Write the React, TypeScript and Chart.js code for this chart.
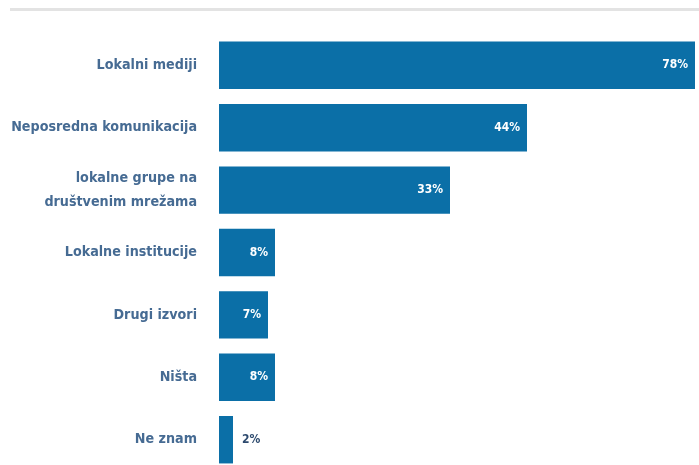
import React, { useEffect, useRef } from "react";
import { Chart, registerables } from "chart.js";

Chart.register(...registerables);

const categories: (string | string[])[] = [
  "Lokalni mediji",
  "Neposredna komunikacija",
  ["lokalne grupe na", "društvenim mrežama"],
  "Lokalne institucije",
  "Drugi izvori",
  "Ništa",
  "Ne znam",
];
const values: number[] = [78, 44, 33, 8, 7, 8, 2];
const valueLabels: string[] = ["78%", "44%", "33%", "8%", "7%", "8%", "2%"];

const BAR = "#0b6fa7";
const TEXT = "#466b93";
const FONT = "'DejaVu Sans Condensed', 'DejaVu Sans', sans-serif";

const valueLabelPlugin = {
  id: "valueLabels",
  afterDatasetsDraw(chart: any) {
    const ctx = chart.ctx;
    const meta = chart.getDatasetMeta(0);
    const area = chart.chartArea;
    ctx.save();
    ctx.font = `bold 12px ${FONT}`;
    ctx.textBaseline = "middle";
    meta.data.forEach((bar: any, i: number) => {
      const txt = valueLabels[i];
      const end = Math.min(bar.x, area.right);
      const w = ctx.measureText(txt).width;
      const width = end - bar.base;
      if (width > w + 16) {
        ctx.fillStyle = "#ffffff";
        ctx.textAlign = "right";
        ctx.fillText(txt, end - 7, bar.y);
      } else {
        ctx.fillStyle = "#2d4a6e";
        ctx.textAlign = "left";
        ctx.fillText(txt, end + 9, bar.y);
      }
    });
    ctx.restore();
  },
};

export default function App() {
  const ref = useRef<HTMLCanvasElement>(null);
  useEffect(() => {
    if (!ref.current) return;
    const chart = new Chart(ref.current, {
      type: "bar",
      data: {
        labels: categories,
        datasets: [
          {
            data: values,
            backgroundColor: BAR,
            borderWidth: 0,
            barPercentage: 0.76,
            categoryPercentage: 1,
            clip: 0,
          } as any,
        ],
      },
      options: {
        indexAxis: "y",
        animation: false,
        responsive: false,
        maintainAspectRatio: false,
        layout: { padding: { top: 32, bottom: 10, left: 0, right: 4 } },
        plugins: {
          legend: { display: false },
          tooltip: { enabled: false },
        },
        scales: {
          x: {
            display: false,
            min: 0,
            max: 68,
          },
          y: {
            grid: { display: false, drawTicks: false },
            border: { display: false },
            ticks: {
              color: TEXT,
              padding: 22,
              font: { family: FONT, size: 14.2, weight: "bold", lineHeight: 1.7 },
            },
            afterFit(scale: any) {
              scale.width = 219;
            },
          },
        },
      },
      plugins: [valueLabelPlugin],
    });
    return () => chart.destroy();
  }, []);

  return (
    <div
      style={{
        position: "absolute",
        left: 0,
        top: 0,
        width: 699,
        height: 465,
        overflow: "hidden",
        background: "#ffffff",
      }}
    >
      <div
        style={{
          position: "absolute",
          left: 10,
          top: 8,
          width: 689,
          height: 3,
          background: "#e3e3e3",
        }}
      />
      <canvas
        ref={ref}
        width={699}
        height={505}
        style={{ position: "absolute", left: 0, top: 0, width: 699, height: 505 }}
      />
    </div>
  );
}
